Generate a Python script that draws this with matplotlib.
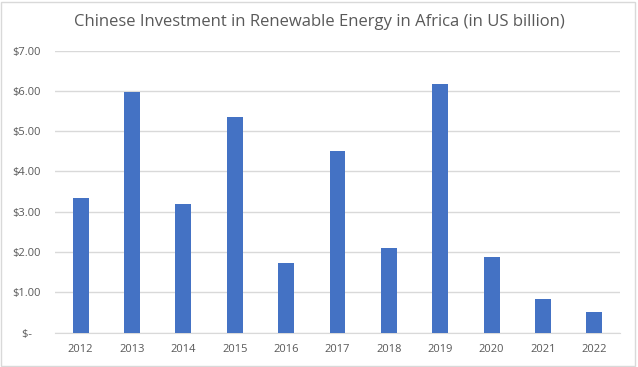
import matplotlib.pyplot as plt
from matplotlib.ticker import FuncFormatter
from matplotlib.patches import Rectangle

years = ["2012", "2013", "2014", "2015", "2016", "2017", "2018", "2019", "2020", "2021", "2022"]
investment = [3.35, 5.96, 3.20, 5.36, 1.73, 4.50, 2.09, 6.18, 1.88, 0.83, 0.51]

plt.rcParams['font.family'] = ['Open Sans', 'DejaVu Sans']

fig = plt.figure(figsize=(6.38, 3.67), dpi=100)
ax = fig.add_axes([55 / 638, 1 - 332.5 / 367, (620 - 55) / 638, (332.5 - 50.5) / 367])

ax.bar(range(len(years)), investment, width=0.31, color='#4472C4', zorder=3)

ax.set_xlim(-0.5, len(years) - 0.5)
ax.set_ylim(0, 7)
ax.set_yticks(range(0, 8))
# accounting style: zero shows as "$-" with some space after it
ax.yaxis.set_major_formatter(FuncFormatter(lambda v, p: "$-   " if v == 0 else f"${v:.2f}"))
ax.set_xticks(range(len(years)))
ax.set_xticklabels(years)

ax.grid(axis='y', color='#D9D9D9', linewidth=1, zorder=0)
for side in ['top', 'right', 'left']:
    ax.spines[side].set_visible(False)
ax.spines['bottom'].set_color('#D9D9D9')
ax.tick_params(axis='both', length=0, labelsize=8, colors='#595959', pad=8)
ax.tick_params(axis='y', pad=10)

fig.text(0.5, 1 - 22 / 367, "Chinese Investment in Renewable Energy in Africa (in US billion)",
         ha='center', va='center', fontsize=12, color='#595959')

# chart border
fig.patches.append(Rectangle((0.002, 0.003), 0.994, 0.992, transform=fig.transFigure,
                             fill=False, edgecolor='#D9D9D9', linewidth=1))

plt.savefig("out.png", dpi=100)
